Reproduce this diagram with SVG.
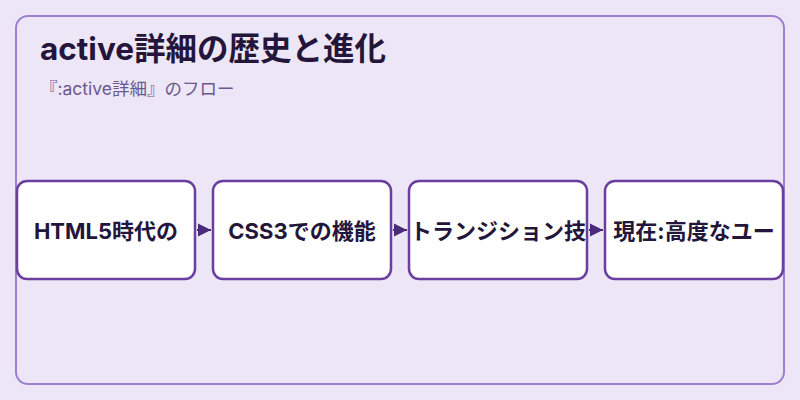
<svg xmlns="http://www.w3.org/2000/svg" width="800" height="400" viewBox="0 0 800 400">
<style>
.node rect{fill:#ffffff;stroke:#6b3fa0;stroke-width:2.5}
.node text{font-family:Inter,"Noto Sans CJK JP",sans-serif;font-weight:bold;font-size:22px;fill:#24163a;text-anchor:middle}
.conn line{stroke:#4a2a7a;stroke-width:2}
.title{font-family:Inter,"Noto Sans CJK JP",sans-serif;font-weight:bold;font-size:31.5px;fill:#24163a}
.sub{font-family:Inter,"Noto Sans CJK JP",sans-serif;font-size:17.5px;fill:#6a5890}
</style>
<defs>
<marker id="arr" viewBox="0 0 10 10" refX="10" refY="5" markerWidth="13" markerHeight="14" markerUnits="userSpaceOnUse" orient="auto">
<path d="M0,0 L10,5 L0,10 z" fill="#4a2a7a"/>
</marker>
</defs>
<rect width="800" height="400" fill="#ede6f6"/>
<rect x="16" y="16" width="768" height="368" rx="12" fill="#ede6f6" stroke="#9f7fd0" stroke-width="2"/>
<text class="title" x="40" y="60">active詳細の歴史と進化</text>
<text class="sub" x="40" y="95">『:active詳細』のフロー</text>
<g class="conn" id="connectors">
<line x1="197" y1="230" x2="211" y2="230" marker-end="url(#arr)"/>
<line x1="393" y1="230" x2="407" y2="230" marker-end="url(#arr)"/>
<line x1="589" y1="230" x2="603" y2="230" marker-end="url(#arr)"/>
</g>
<g class="node" id="node1">
<rect x="17" y="181" width="178" height="98" rx="10"/>
<text x="106" y="239">HTML5時代の</text>
</g>
<g class="node" id="node2">
<rect x="213" y="181" width="178" height="98" rx="10"/>
<text x="302" y="239">CSS3での機能</text>
</g>
<g class="node" id="node3">
<rect x="409" y="181" width="178" height="98" rx="10"/>
<text x="498" y="239">トランジション技</text>
</g>
<g class="node" id="node4">
<rect x="605" y="181" width="178" height="98" rx="10"/>
<text x="694" y="239">現在:高度なユー</text>
</g>
</svg>
